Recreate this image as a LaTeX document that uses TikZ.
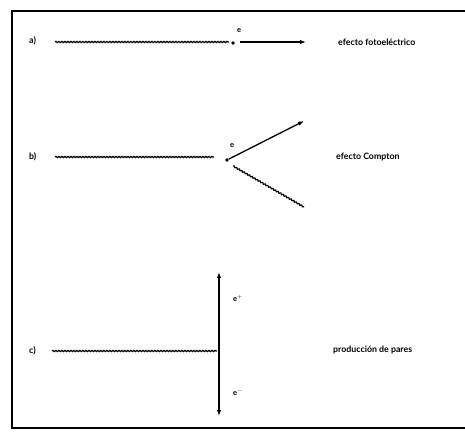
\documentclass[tikz,border=0pt]{standalone}
\usepackage{fontspec}
\setmainfont{Lato}
\usetikzlibrary{decorations.pathmorphing,arrows.meta}
\begin{document}
\begin{tikzpicture}[x=1pt,y=-1pt,
 photon/.style={line width=1.2pt, decorate, decoration={snake, amplitude=0.6pt, segment length=3pt}},
 electron/.style={line width=1.3pt, -{Latex[length=6pt,width=4.5pt]}},
 twoway/.style={line width=1.3pt, {Latex[length=6pt,width=4.5pt]}-{Latex[length=6pt,width=4.5pt]}},
 txt/.style={font=\bfseries\fontsize{8.8}{10}\selectfont, inner sep=0pt, anchor=west},
 small/.style={font=\bfseries\fontsize{7.5}{8}\selectfont, inner sep=0pt},
 vertex/.style={circle, fill, inner sep=0pt, minimum size=3.6pt}]
\useasboundingbox (0,0) rectangle (465,436);
\coordinate (fTR) at (465,11);
\coordinate (fTL) at (12,11);
\coordinate (fBL) at (12,428);
\coordinate (fBR) at (465,428);
\draw[line width=1.6pt] (fTR) -- (fTL) -- (fBL) -- (fBR);

% a) photoelectric
\node[txt] (la) at (29,41) {a)};
\coordinate (a0) at (55,42);
\coordinate (a1) at (229,42);
\node[vertex] (av) at (233,43) {};
\coordinate (as) at (240,42);
\coordinate (ae) at (306,42);
\draw[photon] (a0) -- (a1);
\draw[electron] (as) -- (ae);
\node[small] (ea) at (239,31) {e};
\node[txt] (ta) at (338,42) {efecto fotoeléctrico};

% b) Compton
\node[txt] (lb) at (29,157) {b)};
\coordinate (b0) at (55,157);
\coordinate (b1) at (214,157);
\node[vertex] (bv) at (227,160) {};
\coordinate (be) at (304,121);
\coordinate (bw0) at (233,166);
\coordinate (bw1) at (304,207);
\draw[photon] (b0) -- (b1);
\draw[electron] (bv) -- (be);
\draw[photon] (bw0) -- (bw1);
\node[small] (eb) at (232,146) {e};
\node[txt] (tb) at (336,157) {efecto Compton};

% c) pair production
\node[txt] (lc) at (29,351) {c)};
\coordinate (c0) at (52,351);
\coordinate (c1) at (217,351);
\coordinate (ctop) at (219,272);
\coordinate (cbot) at (219,416);
\draw[photon] (c0) -- (c1);
\draw[twoway] (cbot) -- (ctop);
\node[small] (ep) at (238,298) {e$^{+}$};
\node[small] (em) at (238,392) {e$^{-}$};
\node[txt] (tc) at (333,350) {producción de pares};
\end{tikzpicture}
\end{document}
